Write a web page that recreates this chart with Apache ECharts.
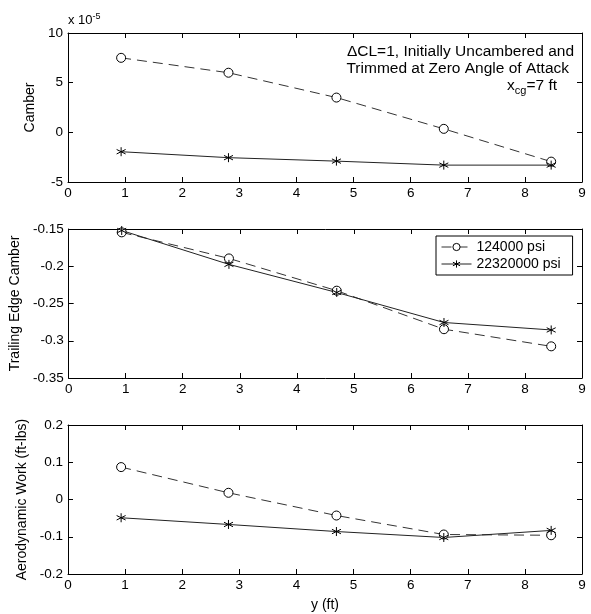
<!DOCTYPE html>
<html>
<head>
<meta charset="utf-8">
<script src="https://cdn.jsdelivr.net/npm/echarts@6/dist/echarts.min.js"></script>
<style>
  html, body { margin: 0; padding: 0; background: #fff; }
  #chart { width: 591px; height: 614px; }
</style>
</head>
<body>
<div id="chart"></div>
<script>
// span stations (ft)
var yStations = [0.93, 2.81, 4.70, 6.58, 8.46];
var seriesNames = ['124000 psi', '22320000 psi'];

// camber (x 10^-5)
var camberSoft = [7.5, 6.0, 3.5, 0.35, -2.95];
var camberStiff = [-1.95, -2.55, -2.9, -3.3, -3.3];

// trailing edge camber
var teSoft = [-0.1545, -0.1895, -0.2328, -0.2845, -0.3075];
var teStiff = [-0.152, -0.1975, -0.2352, -0.2755, -0.2855];

// aerodynamic work (ft-lbs)
var workSoft = [0.087, 0.018, -0.043, -0.094, -0.096];
var workStiff = [-0.049, -0.067, -0.086, -0.102, -0.083];

var xTicks = { min: 0, max: 9, interval: 1 };
var camberTicks = { min: -5, max: 10, interval: 5 };
var teTicks = { min: -0.35, max: -0.15, interval: 0.05 };
var workTicks = { min: -0.2, max: 0.2, interval: 0.1 };

var FONT = 'Liberation Sans';
var TICK_FONT = 13.5;
var NAME_FONT = 14;
var NOTE_FONT = 15.5;
var asterisk = 'path://M5,0 L5,10 M0.7,2.5 L9.3,7.5 M0.7,7.5 L9.3,2.5';

var chart = echarts.init(document.getElementById('chart'));

function pairs(xs, ys) {
	return xs.map(function(x, i) { return [x, ys[i]]; });
}

function axisLineStyle() {
	return { show: true, onZero: false, lineStyle: { color: '#000', width: 1 } };
}

function makeX(grid, main, name) {
	return {
		type: 'value', gridIndex: grid,
		min: xTicks.min, max: xTicks.max, interval: xTicks.interval,
		position: main ? 'bottom' : 'top',
		axisLine: axisLineStyle(),
		axisTick: { show: true, inside: true, length: 5, lineStyle: { color: '#000' } },
		axisLabel: { show: main, color: '#000', fontFamily: FONT, fontSize: TICK_FONT, margin: 4 },
		splitLine: { show: false },
		name: name || '', nameLocation: 'middle', nameGap: 24,
		nameTextStyle: { color: '#000', fontFamily: FONT, fontSize: NAME_FONT }
	};
}

function makeY(grid, main, ticks, name, gap) {
	return {
		type: 'value', gridIndex: grid,
		min: ticks.min, max: ticks.max, interval: ticks.interval,
		position: main ? 'left' : 'right',
		axisLine: axisLineStyle(),
		axisTick: { show: true, inside: true, length: 5, lineStyle: { color: '#000' } },
		axisLabel: { show: main, color: '#000', fontFamily: FONT, fontSize: TICK_FONT, margin: 5 },
		splitLine: { show: false },
		name: main ? name : '', nameLocation: 'middle', nameGap: gap || 30,
		nameTextStyle: { color: '#000', fontFamily: FONT, fontSize: NAME_FONT }
	};
}

function makeSeries(idx, which, data) {
	var soft = which === 0;
	return {
		name: seriesNames[which], type: 'line',
		xAxisIndex: idx * 2, yAxisIndex: idx * 2,
		data: data,
		symbol: soft ? 'circle' : asterisk,
		symbolSize: 9,
		itemStyle: { color: soft ? '#fff' : 'none', borderColor: '#000', borderWidth: 1 },
		lineStyle: { color: soft ? '#333' : '#222', width: 1, type: soft ? [10, 6] : 'solid' },
		animation: false
	};
}

var option = {
	animation: false,
	textStyle: { fontFamily: FONT },
	grid: [
		{ left: 68, top: 33, width: 514, height: 149 },
		{ left: 68, top: 229, width: 514, height: 149 },
		{ left: 68, top: 425, width: 514, height: 149 }
	],
	xAxis: [
		makeX(0, true), makeX(0, false),
		makeX(1, true), makeX(1, false),
		makeX(2, true, 'y (ft)'), makeX(2, false)
	],
	yAxis: [
		makeY(0, true, camberTicks, 'Camber', 20), makeY(0, false, camberTicks),
		makeY(1, true, teTicks, 'Trailing Edge Camber', 35), makeY(1, false, teTicks),
		makeY(2, true, workTicks, 'Aerodynamic Work (ft-lbs)', 28), makeY(2, false, workTicks)
	],
	legend: {
		data: seriesNames,
		orient: 'vertical',
		left: 436, top: 236,
		itemWidth: 30, itemHeight: 9, itemGap: 3,
		padding: [4, 12, 4, 5],
		borderColor: '#000', borderWidth: 1, borderRadius: 0,
		backgroundColor: '#fff',
		lineStyle: { width: 1 },
		itemStyle: { borderWidth: 1 },
		textStyle: { color: '#000', fontFamily: FONT, fontSize: NAME_FONT, lineHeight: 14 }
	},
	graphic: [
		{
			type: 'text', left: 68, top: 12,
			style: {
				text: 'x 10{sup|-5}',
				fontFamily: FONT, fontSize: 13, fill: '#000',
				rich: { sup: { fontSize: 9, verticalAlign: 'top', padding: [0, 0, 7, 0] } }
			}
		},
		{
			type: 'text', right: 17, top: 44,
			style: {
				text: 'ΔCL=1, Initially Uncambered and',
				fontFamily: FONT, fontSize: NOTE_FONT, fill: '#000'
			}
		},
		{
			type: 'text', right: 22, top: 61,
			style: {
				text: 'Trimmed at Zero Angle of Attack',
				fontFamily: FONT, fontSize: NOTE_FONT, fill: '#000'
			}
		},
		{
			type: 'text', right: 34, top: 78,
			style: {
				text: 'x{sub|cg}=7 ft',
				fontFamily: FONT, fontSize: NOTE_FONT, fill: '#000',
				rich: { sub: { fontSize: 11, padding: [10, 0, 0, 0] } }
			}
		}
	],
	series: [
		makeSeries(0, 0, pairs(yStations, camberSoft)),
		makeSeries(0, 1, pairs(yStations, camberStiff)),
		makeSeries(1, 0, pairs(yStations, teSoft)),
		makeSeries(1, 1, pairs(yStations, teStiff)),
		makeSeries(2, 0, pairs(yStations, workSoft)),
		makeSeries(2, 1, pairs(yStations, workStiff))
	]
};
chart.setOption(option);
</script>
</body>
</html>
